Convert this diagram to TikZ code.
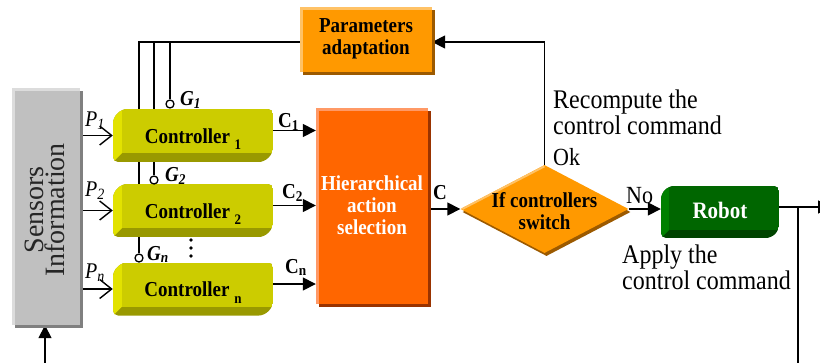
\documentclass[tikz,border=0pt]{standalone}
\usepackage{fontspec}
\setmainfont{Liberation Serif}
\usetikzlibrary{arrows.meta,calc,shapes.geometric,backgrounds}
\definecolor{ctrlmain}{HTML}{CCCC00}
\definecolor{ctrllight}{HTML}{E2E200}
\definecolor{ctrldark}{HTML}{999900}
\definecolor{robmain}{HTML}{006600}
\definecolor{roblight}{HTML}{008000}
\definecolor{robdark}{HTML}{004400}
\definecolor{graymain}{HTML}{C0C0C0}
\definecolor{graylight}{HTML}{DCDCDC}
\definecolor{graydark}{HTML}{808080}
\definecolor{orgmain}{HTML}{FF9900}
\definecolor{orglight}{HTML}{FFC266}
\definecolor{orgdark}{HTML}{9C5A00}
\definecolor{hiermain}{HTML}{FF6600}
\definecolor{hierlight}{HTML}{FF9966}
\definecolor{hierdark}{HTML}{993300}
\newcommand\sy[1]{\scalebox{1}[1.12]{#1}}
\newcommand\lowsub[1]{\raisebox{-0.3em}{\fontsize{13}{13}\selectfont #1}}
\begin{document}
\begin{tikzpicture}[x=1pt,y=-1pt,
  conn/.style={line width=1.6pt, black},
  tri/.style={-{Triangle[length=13pt,width=13pt]}},
  barb/.style={-{Straight Barb[length=12pt,width=19pt,line width=1.4pt]}},
  bevel/.style n args={4}{path picture={
    \coordinate (pbA) at (path picture bounding box.south west);
    \coordinate (pbB) at (path picture bounding box.north east);
    \coordinate (pbL1) at ($(pbA|-pbB)+(0pt,-#4)$);
    \coordinate (pbL2) at ($(pbA|-pbB)+(#4,0pt)$);
    \coordinate (pbR1) at ($(pbB|-pbA)+(0pt,#4)$);
    \coordinate (pbR2) at ($(pbB|-pbA)+(-#4,0pt)$);
    \coordinate (pbI) at ($(pbA)+(#4,#4)$);
    \begin{scope}
      \clip[rounded corners=5pt] (pbL2) -- (pbB) -- (pbR1) -- (pbR2) -- (pbA) -- (pbL1) -- cycle;
      \fill[#3] (pbA) rectangle (pbB);
      \fill[#2] (pbL1) -- (pbL2) -- (pbI) -- (pbA) -- cycle;
      \fill[#1] (pbL2) -- (pbB) -- (pbR1) -- (pbI) -- cycle;
    \end{scope}
  }},
  flatbox/.style n args={3}{fill=#1,
    preaction={fill=#3, transform canvas={xshift=3pt,yshift=-3pt}},
    path picture={
      \fill[#2] (path picture bounding box.south west) rectangle ($(path picture bounding box.north west)+(3pt,0pt)$);
      \fill[#2] ($(path picture bounding box.north west)+(0pt,-3pt)$) rectangle (path picture bounding box.north east);
    }},
  boldtxt/.style={font=\bfseries\fontsize{19}{19.5}\selectfont},
  ctrl/.style={bevel={ctrlmain}{ctrllight}{ctrldark}{9pt}, minimum width=160pt, minimum height=53pt,
    inner sep=0pt, text height=15.5pt, text depth=0pt, boldtxt},
  gcirc/.style={circle, draw, fill=white, line width=1.3pt, minimum size=8pt, inner sep=0pt},
  lbl/.style={inner sep=0pt, align=left},
  ilbl/.style={inner sep=0pt, font=\itshape\fontsize{20}{20}\selectfont},
  gbl/.style={inner sep=0pt, font=\bfseries\itshape\fontsize{19}{19}\selectfont},
  cbl/.style={inner sep=0pt, font=\bfseries\fontsize{19}{19}\selectfont}
]
\useasboundingbox (0,0) rectangle (820,362);
\clip (0,0) rectangle (820,362);

% boxes
\node[flatbox={graymain}{graylight}{graydark}, minimum width=68pt, minimum height=237pt, inner sep=0pt] (sens) at (46,206.5) {};
\node[rotate=90, inner sep=0pt, align=center, text=black!85, font=\fontsize{28}{21}\selectfont] (senstxt) at (45,210) {Sensors\\Information};

\node[ctrl] (c1) at (193,135.5) {\sy{Controller\ \lowsub{1}}};
\node[ctrl] (c2) at (193,210.5) {\sy{Controller\ \lowsub{2}}};
\node[ctrl] (cn) at (193,289) {\sy{Controller\ \lowsub{n}}};

\node[flatbox={orgmain}{orglight}{orgdark}, minimum width=132pt, minimum height=65pt, inner sep=0pt, boldtxt] (par) at (366,39.5)
  {\sy{\begin{tabular}{@{}c@{}}Parameters\\adaptation\end{tabular}}};

\node[flatbox={hiermain}{hierlight}{hierdark}, minimum width=112pt, minimum height=196pt, inner sep=0pt] (hier) at (372,206) {};
\node[inner sep=0pt, boldtxt, text=white] (hiertxt) at ([yshift=-2pt]hier.center)
  {\sy{\begin{tabular}{@{}c@{}}Hierarchical\\action\\selection\end{tabular}}};

\node[diamond, minimum width=168pt, minimum height=88pt, inner sep=0pt, fill=orgmain,
  preaction={fill=orgdark, transform canvas={xshift=2pt,yshift=-3pt}}] (dia) at (544.5,209) {};
\draw[orglight, line width=2pt] ([xshift=2pt]dia.west) -- ([yshift=-1.5pt]dia.north);
\node[inner sep=0pt, boldtxt] (diatxt) at ([yshift=-5pt]dia.center)
  {\sy{\begin{tabular}{@{}c@{}}If controllers\\switch\end{tabular}}};

\node[bevel={robmain}{roblight}{robdark}{8pt}, minimum width=118pt, minimum height=52pt, inner sep=0pt,
  text height=14pt, text depth=1pt, text=white, font=\bfseries\fontsize{21}{21}\selectfont] (robot) at (720,212) {\sy{Robot}};

% circles
\node[gcirc] (g1) at (170,104) {};
\node[gcirc] (g2) at (154,180) {};
\node[gcirc] (gn) at (139,258) {};

\coordinate (tl) at (139,42);
\coordinate (outR) at (831,207);
\coordinate (fbR) at (798,366);
\coordinate (fbL) at (45,366);

\begin{scope}[on background layer]
  \draw[conn] ([yshift=-2.5pt]par.west) -| (gn.north);
  \draw[conn] (g2 |- tl) -- (g2.north);
  \draw[conn] (g1 |- tl) -- (g1.north);
  \draw[conn, barb] (sens.east |- c1.west) -- (c1.west);
  \draw[conn, barb] (sens.east |- c2.west) -- (c2.west);
  \draw[conn, barb] (sens.east |- cn.west) -- (cn.west);
  \draw[conn, tri] ([yshift=5pt]c1.east) -- ([yshift=5pt]c1.east -| hier.west);
  \draw[conn, tri] ([yshift=5pt]c2.east) -- ([yshift=5pt]c2.east -| hier.west);
  \draw[conn, tri] ([yshift=5pt]cn.east) -- ([yshift=5pt]cn.east -| hier.west);
  \draw[conn, tri] (hier.east |- dia.west) -- (dia.west);
  \draw[conn, tri] (dia.east) -- (dia.east -| robot.west);
  \draw[conn, tri] (dia.north) |- ([yshift=-2.5pt]par.east);
  \draw[conn, tri] ([yshift=5pt]robot.east) -- ([yshift=5pt]robot.east -| outR);
  \draw[conn] (fbR |- outR) -- (fbR);
  \draw[conn, tri] (fbL) -- (fbL |- sens.south);
\end{scope}

% dots
\fill (191,240) circle (1.9pt);
\fill (191,248) circle (1.9pt);
\fill (191,256) circle (1.9pt);

% labels
\node[ilbl, anchor=base west] (lp1) at (85,126) {\sy{P\textsubscript{1}}};
\node[ilbl, anchor=base west] (lp2) at (85,196) {\sy{P\textsubscript{2}}};
\node[ilbl, anchor=base west] (lpn) at (85,278) {\sy{P\textsubscript{n}}};
\node[gbl, anchor=base west] (lg1) at (180,105) {\sy{G\textsubscript{1}}};
\node[gbl, anchor=base west] (lg2) at (165,181) {\sy{G\textsubscript{2}}};
\node[gbl, anchor=base west] (lgn) at (147,260) {\sy{G\textsubscript{n}}};
\node[cbl, anchor=base west] (lc1) at (278,127) {\sy{C\textsubscript{1}}};
\node[cbl, anchor=base west] (lc2) at (282,198) {\sy{C\textsubscript{2}}};
\node[cbl, anchor=base west] (lcn) at (285,273) {\sy{C\textsubscript{n}}};
\node[cbl, anchor=base west] (lc) at (433,199) {\sy{C}};

\node[lbl, anchor=north west, font=\fontsize{24}{23.2}\selectfont] (recomp) at (553,89.5)
  {\sy{\begin{tabular}{@{}l@{}}Recompute the\\control command\end{tabular}}};
\node[lbl, anchor=base west, font=\fontsize{22}{22}\selectfont] (ok) at (553,165) {\sy{Ok}};
\node[lbl, anchor=base west, font=\fontsize{22}{22}\selectfont] (no) at (626,203) {\sy{No}};
\node[lbl, anchor=north west, font=\fontsize{24}{23.2}\selectfont] (apply) at (622,244.5)
  {\sy{\begin{tabular}{@{}l@{}}Apply the\\control command\end{tabular}}};
\end{tikzpicture}
\end{document}
